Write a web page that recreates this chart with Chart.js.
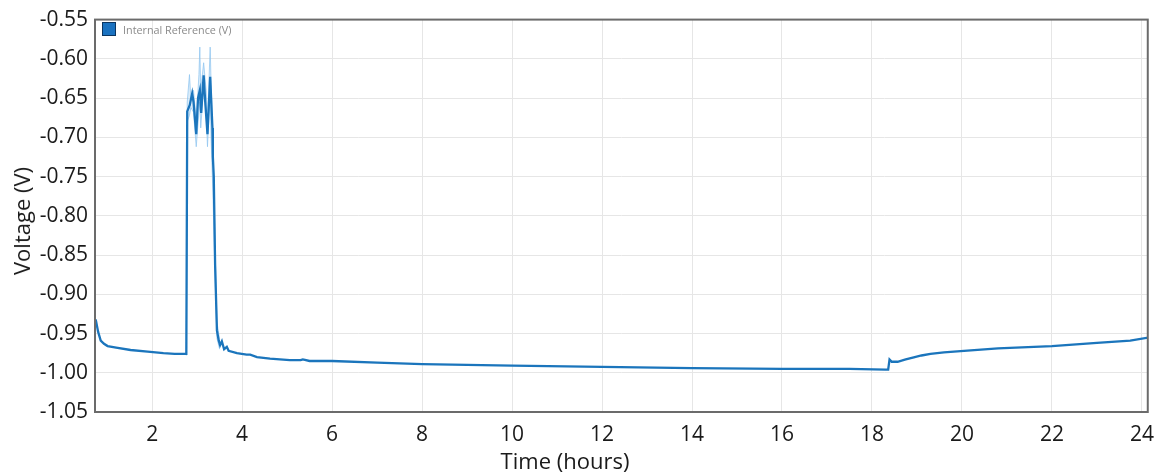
<!DOCTYPE html>
<html>
<head>
<meta charset="utf-8">
<script src="https://cdn.jsdelivr.net/npm/chart.js@4.4.1/dist/chart.umd.min.js"></script>
<style>
  html, body { margin: 0; padding: 0; background: #ffffff; }
  #wrap { position: relative; width: 1164px; height: 475px; }
  #c { position: absolute; left: 0; top: 0; }
  .axis-title {
    position: absolute;
    font-family: "Open Sans", "Noto Sans", sans-serif;
    font-size: 22px;
    color: #1a1a1a;
    white-space: nowrap;
    line-height: 1;
  }
  #xTitle { left: 565px; top: 460px; transform: translate(-50%, -50%); }
  #yTitle { left: 21px; top: 221px; transform: translate(-50%, -50%) rotate(-90deg); }
  #legend {
    position: absolute; left: 102px; top: 21px; height: 16px;
    display: flex; align-items: center;
    font-family: "Open Sans", "Noto Sans", sans-serif;
    font-size: 10.8px; color: #8a8a8a; white-space: nowrap;
  }
  #legendBox {
    width: 12px; height: 12px; margin-right: 7px;
    background: #1a72c0; border: 1.5px solid #0b3560;
  }
</style>
</head>
<body>
<div id="wrap">
  <canvas id="c" width="1164" height="475"></canvas>
  <div id="xTitle" class="axis-title">Time (hours)</div>
  <div id="yTitle" class="axis-title">Voltage (V)</div>
  <div id="legend"><span id="legendBox"></span><span id="legendText"></span></div>
</div>
<script>
// Internal reference voltage over a 24 h run
const seriesLabel = "Internal Reference (V)";

const timeHours = [
  0.746, 0.80, 0.857, 0.93, 1.01, 1.2, 1.52, 1.9, 2.25, 2.5, 2.74, 2.76,
  2.78, 2.835, 2.89, 2.92, 2.98, 3.02, 3.06, 3.09, 3.145, 3.18, 3.23, 3.29,
  3.34, 3.35, 3.37, 3.40, 3.44, 3.48, 3.51, 3.55, 3.60, 3.66, 3.70, 3.885,
  4.1, 4.18, 4.33, 4.62, 5.06, 5.3, 5.35, 5.5, 6.0, 7.0, 8.0, 9.0, 10.0, 12.0, 14.0,
  16.0, 17.5, 18.3, 18.36, 18.39, 18.44, 18.57, 18.75, 18.95, 19.1, 19.3, 19.6, 19.97, 20.8,
  22.0, 23.0, 23.74, 24.15
];
const voltage = [
  -0.932, -0.948, -0.959, -0.963, -0.966, -0.968, -0.971, -0.973, -0.975, -0.976, -0.976, -0.976,
  -0.667, -0.659, -0.644, -0.655, -0.696, -0.650, -0.640, -0.669, -0.621, -0.655, -0.696, -0.623,
  -0.688, -0.725, -0.750, -0.863, -0.946, -0.959, -0.965, -0.960, -0.970, -0.967, -0.972, -0.975,
  -0.977, -0.977, -0.980, -0.982, -0.984, -0.984, -0.983, -0.985, -0.985, -0.987, -0.989, -0.990, -0.991, -0.9925, -0.994,
  -0.995, -0.995, -0.996, -0.996, -0.983, -0.986, -0.986, -0.983, -0.980, -0.978, -0.976, -0.974, -0.9725, -0.969,
  -0.966, -0.962, -0.959, -0.955
];

// Min/max spread of the readings during the disturbance
const spreadTime = [2.76, 2.78, 2.83, 2.86, 2.92, 2.98, 3.04, 3.06, 3.08, 3.145, 3.20, 3.23, 3.29, 3.31, 3.35, 3.40, 3.44, 3.50];
const spreadHigh = [-0.975, -0.655, -0.620, -0.650, -0.640, -0.680, -0.620, -0.585, -0.640, -0.605, -0.640, -0.680, -0.585, -0.630, -0.700, -0.840, -0.935, -0.958];
const spreadLow  = [-0.978, -0.680, -0.672, -0.662, -0.668, -0.712, -0.668, -0.655, -0.688, -0.636, -0.668, -0.712, -0.640, -0.700, -0.770, -0.880, -0.956, -0.970];

// Axis ranges and ticks
const xMin = 0.73, xMax = 24.13, xStep = 2;
const yMin = -1.05, yMax = -0.55, yStep = 0.05;

document.getElementById("legendText").textContent = seriesLabel;

const toPoints = (xs, ys) => xs.map((x, i) => ({ x: x, y: ys[i] }));

const lineBlue = "#1b75bc";
const tickFont = { family: "'Open Sans', 'Noto Sans', sans-serif", size: 21 };

// Dark frame around the plotting area
const frame = {
  id: "frame",
  afterDatasetsDraw(chart) {
    const a = chart.chartArea, ctx = chart.ctx;
    ctx.save();
    ctx.strokeStyle = "#6b6b6b";
    ctx.lineWidth = 2;
    ctx.strokeRect(a.left, a.top, a.right - a.left, a.bottom - a.top);
    ctx.restore();
  }
};

new Chart(document.getElementById("c"), {
  type: "line",
  data: {
    datasets: [
      {
        label: seriesLabel,
        data: toPoints(timeHours, voltage),
        borderColor: lineBlue,
        backgroundColor: lineBlue,
        borderWidth: 2.3,
        pointRadius: 0,
        tension: 0,
        fill: false
      },
      {
        label: "high",
        data: toPoints(spreadTime, spreadHigh),
        borderColor: "rgba(140,195,240,0.7)",
        borderWidth: 1,
        pointRadius: 0,
        fill: false
      },
      {
        label: "low",
        data: toPoints(spreadTime, spreadLow),
        borderColor: "rgba(140,195,240,0.7)",
        backgroundColor: "rgba(150,200,240,0.35)",
        borderWidth: 1,
        pointRadius: 0,
        fill: "-1"
      }
    ]
  },
  options: {
    responsive: false,
    animation: false,
    devicePixelRatio: 1,
    layout: { padding: { top: 13, right: 13, bottom: 0, left: 0 } },
    plugins: {
      tooltip: { enabled: false },
      legend: { display: false }
    },
    scales: {
      x: {
        type: "linear",
        min: xMin,
        max: xMax,
        grid: { color: "#e6e6e6", lineWidth: 1, drawTicks: false },
        border: { display: false },
        ticks: {
          stepSize: xStep,
          includeBounds: false,
          padding: 10,
          color: "#1a1a1a",
          font: tickFont,
          maxRotation: 0,
          callback: (v) => String(v)
        },
        afterFit: (s) => { s.height = 63; }
      },
      y: {
        type: "linear",
        min: yMin,
        max: yMax,
        grid: { color: "#e6e6e6", lineWidth: 1, drawTicks: false },
        border: { display: false },
        ticks: {
          stepSize: yStep,
          padding: 7,
          color: "#1a1a1a",
          font: tickFont,
          callback: (v) => Number(v).toFixed(2)
        },
        afterFit: (s) => { s.width = 95; }
      }
    }
  },
  plugins: [frame]
});
</script>
</body>
</html>
